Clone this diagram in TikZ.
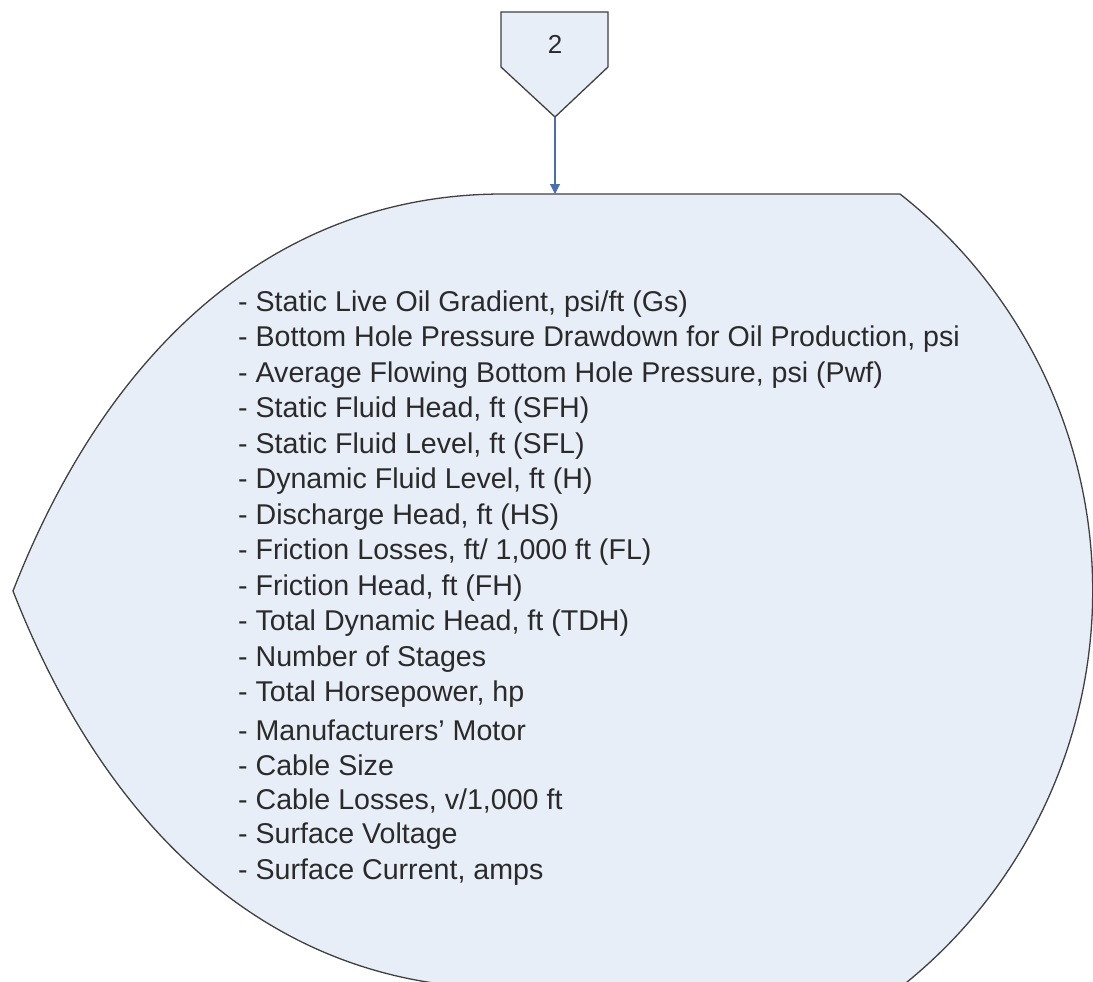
\documentclass[tikz,border=0pt]{standalone}
\usepackage{fontspec}
\setmainfont{Liberation Sans}
\usetikzlibrary{arrows.meta}
\definecolor{shapefill}{HTML}{E8EEF7}
\definecolor{shapeline}{HTML}{404040}
\definecolor{arrowblue}{HTML}{4A6FB0}
\definecolor{txt}{HTML}{2A2A2A}
\tikzset{
  shapestyle/.style={fill=shapefill, draw=shapeline, line width=1.3pt, line join=miter},
  itemtext/.style={anchor=west, inner sep=0pt, text=txt, font=\fontsize{28.6}{32}\selectfont},
  conn/.style={draw=arrowblue, line width=1.1pt, -{Triangle[length=10pt,width=10pt]}}
}
\begin{document}
\begin{tikzpicture}[x=1pt,y=-1pt]
\useasboundingbox (0,0) rectangle (1093,982);
% off-page connector
\draw[shapestyle] (501,12) -- (608,12) -- (608,67) -- (555,117) -- (501,67) -- cycle;
\node[text=txt, font=\fontsize{26}{30}\selectfont] (c2) at (555,44) {2};
\coordinate (c2tip) at (555,117);
% display shape
\draw[shapestyle] (503,194) -- (900,194)
  arc[start angle=-51.8, end angle=51.8, x radius=505, y radius=505]
  -- (503,988)
  .. controls (290,988) and (115,852) .. (13,591)
  .. controls (115,330) and (290,194) .. (503,194) -- cycle;
\coordinate (disptop) at (555,194);
\draw[conn] (c2tip) -- (disptop);
% list
\foreach \t [count=\i from 0] in {
 {- Static Live Oil Gradient, psi/ft (Gs)},
 {- Bottom Hole Pressure Drawdown for Oil Production, psi},
 {- Average Flowing Bottom Hole Pressure, psi (Pwf)},
 {- Static Fluid Head, ft (SFH)},
 {- Static Fluid Level, ft (SFL)},
 {- Dynamic Fluid Level, ft (H)},
 {- Discharge Head, ft (HS)},
 {- Friction Losses, ft/ 1,000 ft (FL)},
 {- Friction Head, ft (FH)},
 {- Total Dynamic Head, ft (TDH)},
 {- Number of Stages},
 {- Total Horsepower, hp},
 {- Manufacturers' Motor},
 {- Cable Size},
 {- Cable Losses, v/1,000 ft},
 {- Surface Voltage},
 {- Surface Current, amps}}
{ \node[itemtext] (item\i) at (238,{304+35.5*\i}) {\t}; }
\end{tikzpicture}
\end{document}
